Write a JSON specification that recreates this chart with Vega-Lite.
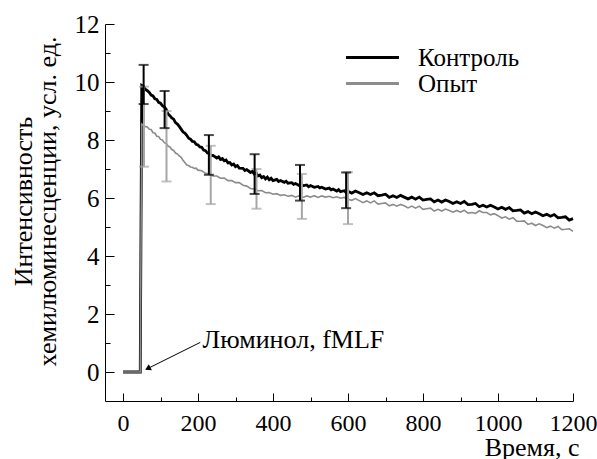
{
  "$schema": "https://vega.github.io/schema/vega-lite/v6.json",
  "width": 468,
  "height": 377,
  "autosize": {"type": "none"},
  "padding": {"left": 105, "top": 24, "right": 24, "bottom": 58},
  "config": {
    "font": "Liberation Serif",
    "view": {"stroke": null},
    "axis": {"grid": false, "domainColor": "#000000", "tickColor": "#000000", "labelColor": "#000000", "titleColor": "#000000", "titleFontWeight": "normal", "labelFont": "Liberation Serif", "titleFont": "Liberation Serif", "labelFlush": false, "labelOverlap": false, "domainWidth": 1, "tickWidth": 1}
  },
  "resolve": {"axis": {"x": "independent", "y": "independent"}},
  "datasets": {
    "kontrol": [
      {"t": 0, "v": 0}, {"t": 46, "v": 0}, {"t": 50, "v": 9.88}, {"t": 55, "v": 9.84}, {"t": 60, "v": 9.74}, {"t": 65, "v": 9.7}, {"t": 70, "v": 9.64}, {"t": 75, "v": 9.55}, {"t": 80, "v": 9.52}, {"t": 85, "v": 9.42}, {"t": 90, "v": 9.4}, {"t": 95, "v": 9.3}, {"t": 100, "v": 9.27}, {"t": 105, "v": 9.18}, {"t": 110, "v": 9.14}, {"t": 115, "v": 9.06}, {"t": 120, "v": 8.9}, {"t": 125, "v": 8.84}, {"t": 130, "v": 8.76}, {"t": 135, "v": 8.72}, {"t": 140, "v": 8.6}, {"t": 145, "v": 8.55}, {"t": 150, "v": 8.47}, {"t": 160, "v": 8.28}, {"t": 165, "v": 8.24}, {"t": 170, "v": 8.16}, {"t": 175, "v": 8.06}, {"t": 180, "v": 8.03}, {"t": 185, "v": 7.95}, {"t": 190, "v": 7.94}, {"t": 195, "v": 7.85}, {"t": 200, "v": 7.83}, {"t": 205, "v": 7.76}, {"t": 210, "v": 7.75}, {"t": 215, "v": 7.65}, {"t": 220, "v": 7.63}, {"t": 225, "v": 7.55}, {"t": 230, "v": 7.54}, {"t": 235, "v": 7.46}, {"t": 240, "v": 7.47}, {"t": 250, "v": 7.38}, {"t": 255, "v": 7.42}, {"t": 260, "v": 7.33}, {"t": 265, "v": 7.36}, {"t": 270, "v": 7.28}, {"t": 275, "v": 7.31}, {"t": 280, "v": 7.21}, {"t": 285, "v": 7.22}, {"t": 290, "v": 7.14}, {"t": 295, "v": 7.17}, {"t": 300, "v": 7.08}, {"t": 305, "v": 7.12}, {"t": 310, "v": 7.03}, {"t": 320, "v": 7.02}, {"t": 325, "v": 6.95}, {"t": 330, "v": 6.98}, {"t": 340, "v": 6.88}, {"t": 345, "v": 6.92}, {"t": 350, "v": 6.83}, {"t": 355, "v": 6.86}, {"t": 360, "v": 6.76}, {"t": 365, "v": 6.79}, {"t": 370, "v": 6.7}, {"t": 375, "v": 6.74}, {"t": 380, "v": 6.66}, {"t": 385, "v": 6.72}, {"t": 390, "v": 6.63}, {"t": 395, "v": 6.68}, {"t": 400, "v": 6.6}, {"t": 410, "v": 6.64}, {"t": 415, "v": 6.57}, {"t": 420, "v": 6.6}, {"t": 430, "v": 6.54}, {"t": 435, "v": 6.58}, {"t": 440, "v": 6.51}, {"t": 450, "v": 6.53}, {"t": 455, "v": 6.47}, {"t": 460, "v": 6.5}, {"t": 470, "v": 6.43}, {"t": 475, "v": 6.48}, {"t": 480, "v": 6.42}, {"t": 490, "v": 6.45}, {"t": 495, "v": 6.39}, {"t": 500, "v": 6.43}, {"t": 510, "v": 6.37}, {"t": 520, "v": 6.4}, {"t": 525, "v": 6.35}, {"t": 530, "v": 6.37}, {"t": 540, "v": 6.31}, {"t": 550, "v": 6.34}, {"t": 555, "v": 6.28}, {"t": 560, "v": 6.31}, {"t": 570, "v": 6.24}, {"t": 575, "v": 6.29}, {"t": 580, "v": 6.22}, {"t": 590, "v": 6.25}, {"t": 595, "v": 6.19}, {"t": 600, "v": 6.23}, {"t": 610, "v": 6.17}, {"t": 620, "v": 6.24}, {"t": 630, "v": 6.18}, {"t": 640, "v": 6.12}, {"t": 650, "v": 6.18}, {"t": 660, "v": 6.12}, {"t": 670, "v": 6.18}, {"t": 680, "v": 6.08}, {"t": 690, "v": 6.1}, {"t": 700, "v": 6.13}, {"t": 710, "v": 6.02}, {"t": 720, "v": 6.08}, {"t": 730, "v": 6.02}, {"t": 740, "v": 6.09}, {"t": 750, "v": 6.03}, {"t": 760, "v": 5.97}, {"t": 770, "v": 6.03}, {"t": 780, "v": 5.96}, {"t": 790, "v": 6.03}, {"t": 800, "v": 5.93}, {"t": 810, "v": 5.95}, {"t": 820, "v": 5.97}, {"t": 830, "v": 5.87}, {"t": 840, "v": 5.93}, {"t": 850, "v": 5.86}, {"t": 860, "v": 5.93}, {"t": 870, "v": 5.88}, {"t": 880, "v": 5.81}, {"t": 890, "v": 5.87}, {"t": 900, "v": 5.81}, {"t": 910, "v": 5.88}, {"t": 920, "v": 5.77}, {"t": 930, "v": 5.78}, {"t": 940, "v": 5.81}, {"t": 950, "v": 5.7}, {"t": 960, "v": 5.75}, {"t": 970, "v": 5.69}, {"t": 980, "v": 5.75}, {"t": 990, "v": 5.69}, {"t": 1000, "v": 5.62}, {"t": 1010, "v": 5.68}, {"t": 1020, "v": 5.61}, {"t": 1030, "v": 5.67}, {"t": 1040, "v": 5.56}, {"t": 1050, "v": 5.57}, {"t": 1060, "v": 5.59}, {"t": 1070, "v": 5.48}, {"t": 1080, "v": 5.53}, {"t": 1090, "v": 5.46}, {"t": 1100, "v": 5.52}, {"t": 1110, "v": 5.46}, {"t": 1120, "v": 5.39}, {"t": 1130, "v": 5.44}, {"t": 1140, "v": 5.37}, {"t": 1150, "v": 5.43}, {"t": 1160, "v": 5.32}, {"t": 1170, "v": 5.33}, {"t": 1180, "v": 5.35}, {"t": 1190, "v": 5.24}, {"t": 1200, "v": 5.29}
    ],
    "opyt": [
      {"t": 0, "v": 0}, {"t": 46, "v": 0}, {"t": 50, "v": 8.55}, {"t": 55, "v": 8.5}, {"t": 60, "v": 8.46}, {"t": 65, "v": 8.45}, {"t": 70, "v": 8.37}, {"t": 75, "v": 8.36}, {"t": 80, "v": 8.25}, {"t": 85, "v": 8.24}, {"t": 90, "v": 8.13}, {"t": 95, "v": 8.12}, {"t": 100, "v": 8.02}, {"t": 105, "v": 8.0}, {"t": 110, "v": 7.91}, {"t": 115, "v": 7.88}, {"t": 120, "v": 7.79}, {"t": 125, "v": 7.76}, {"t": 130, "v": 7.67}, {"t": 135, "v": 7.64}, {"t": 140, "v": 7.55}, {"t": 145, "v": 7.52}, {"t": 150, "v": 7.45}, {"t": 155, "v": 7.4}, {"t": 160, "v": 7.3}, {"t": 165, "v": 7.22}, {"t": 170, "v": 7.14}, {"t": 175, "v": 7.12}, {"t": 180, "v": 7.07}, {"t": 185, "v": 7.06}, {"t": 190, "v": 7.02}, {"t": 195, "v": 7.03}, {"t": 200, "v": 6.96}, {"t": 210, "v": 6.94}, {"t": 220, "v": 6.85}, {"t": 230, "v": 6.83}, {"t": 240, "v": 6.76}, {"t": 250, "v": 6.76}, {"t": 260, "v": 6.68}, {"t": 270, "v": 6.69}, {"t": 280, "v": 6.6}, {"t": 290, "v": 6.6}, {"t": 300, "v": 6.53}, {"t": 310, "v": 6.53}, {"t": 320, "v": 6.44}, {"t": 330, "v": 6.41}, {"t": 340, "v": 6.33}, {"t": 350, "v": 6.31}, {"t": 360, "v": 6.25}, {"t": 370, "v": 6.26}, {"t": 380, "v": 6.18}, {"t": 390, "v": 6.19}, {"t": 400, "v": 6.13}, {"t": 410, "v": 6.15}, {"t": 420, "v": 6.09}, {"t": 430, "v": 6.11}, {"t": 440, "v": 6.06}, {"t": 450, "v": 6.09}, {"t": 460, "v": 6.03}, {"t": 470, "v": 6.08}, {"t": 480, "v": 6.02}, {"t": 490, "v": 6.07}, {"t": 500, "v": 6.03}, {"t": 510, "v": 6.08}, {"t": 520, "v": 6.02}, {"t": 530, "v": 6.07}, {"t": 540, "v": 6.03}, {"t": 550, "v": 6.06}, {"t": 560, "v": 6.01}, {"t": 570, "v": 6.04}, {"t": 580, "v": 5.99}, {"t": 590, "v": 6.02}, {"t": 600, "v": 5.96}, {"t": 610, "v": 5.92}, {"t": 620, "v": 5.98}, {"t": 630, "v": 5.91}, {"t": 640, "v": 5.84}, {"t": 650, "v": 5.9}, {"t": 660, "v": 5.83}, {"t": 670, "v": 5.9}, {"t": 680, "v": 5.79}, {"t": 690, "v": 5.81}, {"t": 700, "v": 5.83}, {"t": 710, "v": 5.73}, {"t": 720, "v": 5.78}, {"t": 730, "v": 5.72}, {"t": 740, "v": 5.78}, {"t": 750, "v": 5.73}, {"t": 760, "v": 5.66}, {"t": 770, "v": 5.72}, {"t": 780, "v": 5.65}, {"t": 790, "v": 5.72}, {"t": 800, "v": 5.61}, {"t": 810, "v": 5.63}, {"t": 820, "v": 5.65}, {"t": 830, "v": 5.55}, {"t": 840, "v": 5.61}, {"t": 850, "v": 5.55}, {"t": 860, "v": 5.62}, {"t": 870, "v": 5.57}, {"t": 880, "v": 5.51}, {"t": 890, "v": 5.57}, {"t": 900, "v": 5.51}, {"t": 910, "v": 5.58}, {"t": 920, "v": 5.48}, {"t": 930, "v": 5.5}, {"t": 940, "v": 5.47}, {"t": 950, "v": 5.56}, {"t": 960, "v": 5.5}, {"t": 970, "v": 5.5}, {"t": 980, "v": 5.42}, {"t": 990, "v": 5.46}, {"t": 1000, "v": 5.39}, {"t": 1010, "v": 5.31}, {"t": 1020, "v": 5.35}, {"t": 1030, "v": 5.27}, {"t": 1040, "v": 5.32}, {"t": 1050, "v": 5.2}, {"t": 1060, "v": 5.2}, {"t": 1070, "v": 5.21}, {"t": 1080, "v": 5.09}, {"t": 1090, "v": 5.13}, {"t": 1100, "v": 5.05}, {"t": 1110, "v": 5.11}, {"t": 1120, "v": 5.05}, {"t": 1130, "v": 4.98}, {"t": 1140, "v": 5.03}, {"t": 1150, "v": 4.96}, {"t": 1160, "v": 5.02}, {"t": 1170, "v": 4.91}, {"t": 1180, "v": 4.92}, {"t": 1190, "v": 4.94}, {"t": 1200, "v": 4.85}
    ],
    "errK": [
      {"t": 55, "lo": 9.24, "hi": 10.59}, {"t": 111, "lo": 8.41, "hi": 9.69}, {"t": 229, "lo": 6.8, "hi": 8.17}, {"t": 351, "lo": 6.14, "hi": 7.51}, {"t": 472, "lo": 5.91, "hi": 7.14}, {"t": 595, "lo": 5.65, "hi": 6.88}
    ],
    "errO": [
      {"t": 56, "lo": 7.08, "hi": 9.84}, {"t": 116, "lo": 6.57, "hi": 9.0}, {"t": 234, "lo": 5.79, "hi": 7.8}, {"t": 356, "lo": 5.63, "hi": 7.0}, {"t": 477, "lo": 5.28, "hi": 6.83}, {"t": 600, "lo": 5.1, "hi": 6.89}
    ],
    "note": [{"t": 212, "v": 1.1, "label": "Люминол, fMLF"}],
    "arrow": [{"t": 206, "v": 1.02, "t2": 66, "v2": 0.12}],
    "head": [{"t": 66, "v": 0.12}]
  },
  "layer": [
    {
      "data": {"name": "kontrol"},
      "mark": {"type": "line", "strokeWidth": 2.8, "interpolate": "linear"},
      "encoding": {
        "x": {
          "field": "t", "type": "quantitative",
          "scale": {"domain": [-48, 1200], "nice": false, "zero": false},
          "axis": {
            "title": "Время, с",
            "format": "d",
            "values": [0, 100, 200, 300, 400, 500, 600, 700, 800, 900, 1000, 1100, 1200],
            "labelExpr": "datum.value % 200 === 0 ? datum.label : ''",
            "tickSize": {"condition": {"test": "datum.value % 200 === 0", "value": -8}, "value": -4},
            "labelPadding": 18,
            "labelFontSize": 24,
            "titleFontSize": 26,
            "titleAnchor": "end",
            "titleAlign": "right",
            "titleBaseline": "alphabetic",
            "titleX": 474,
            "titleY": 54
          }
        },
        "y": {
          "field": "v", "type": "quantitative",
          "scale": {"domain": [-1, 12], "nice": false, "zero": false},
          "axis": {
            "title": ["Интенсивность", "хемилюминесценции, усл. ед."],
            "format": "d",
            "values": [0, 1, 2, 3, 4, 5, 6, 7, 8, 9, 10, 11, 12],
            "labelExpr": "datum.value % 2 === 0 ? datum.label : ''",
            "tickSize": {"condition": {"test": "datum.value % 2 === 0", "value": -9}, "value": -5},
            "labelPadding": 15,
            "labelFontSize": 25,
            "titleFontSize": 26,
            "titleAngle": -90,
            "titleAlign": "center",
            "titleBaseline": "alphabetic",
            "titleLineHeight": 24,
            "titleX": -74,
            "titleY": 177
          }
        },
        "color": {
          "datum": "Контроль", "type": "nominal",
          "scale": {"domain": ["Контроль", "Опыт"], "range": ["#000000", "#8c8c8c"]},
          "legend": {
            "title": null, "orient": "none", "legendX": 255, "legendY": 21,
            "symbolType": "M-5,0H5", "symbolSize": 112, "symbolStrokeWidth": 3,
            "labelFont": "Liberation Serif", "labelFontSize": 25, "labelColor": "#000000",
            "labelOffset": 33, "rowPadding": 0, "padding": 0
          }
        }
      }
    },
    {
      "data": {"name": "opyt"},
      "mark": {"type": "line", "strokeWidth": 1.6},
      "encoding": {
        "x": {"field": "t", "type": "quantitative", "axis": null},
        "y": {"field": "v", "type": "quantitative", "axis": null},
        "color": {"datum": "Опыт", "type": "nominal"}
      }
    },
    {
      "data": {"name": "errO"},
      "mark": {"type": "errorbar", "color": "#a6a6a6", "thickness": 2, "ticks": {"size": 10, "thickness": 2, "color": "#a6a6a6"}, "rule": {"strokeWidth": 2, "color": "#a6a6a6"}},
      "encoding": {
        "x": {"field": "t", "type": "quantitative", "axis": null},
        "y": {"field": "lo", "type": "quantitative", "axis": null},
        "y2": {"field": "hi"}
      }
    },
    {
      "data": {"name": "errK"},
      "mark": {"type": "errorbar", "color": "#000000", "thickness": 2, "ticks": {"size": 10, "thickness": 2, "color": "#000000"}, "rule": {"strokeWidth": 2, "color": "#000000"}},
      "encoding": {
        "x": {"field": "t", "type": "quantitative", "axis": null},
        "y": {"field": "lo", "type": "quantitative", "axis": null},
        "y2": {"field": "hi"}
      }
    },
    {
      "data": {"name": "arrow"},
      "mark": {"type": "rule", "color": "#000000", "strokeWidth": 1},
      "encoding": {
        "x": {"field": "t", "type": "quantitative", "axis": null},
        "y": {"field": "v", "type": "quantitative", "axis": null},
        "x2": {"field": "t2"},
        "y2": {"field": "v2"}
      }
    },
    {
      "data": {"name": "head"},
      "mark": {"type": "point", "shape": "triangle-up", "filled": true, "color": "#000000", "size": 45, "angle": 243, "opacity": 1},
      "encoding": {
        "x": {"field": "t", "type": "quantitative", "axis": null},
        "y": {"field": "v", "type": "quantitative", "axis": null}
      }
    },
    {
      "data": {"name": "note"},
      "mark": {"type": "text", "align": "left", "baseline": "middle", "font": "Liberation Serif", "fontSize": 26, "color": "#000000"},
      "encoding": {
        "x": {"field": "t", "type": "quantitative", "axis": null},
        "y": {"field": "v", "type": "quantitative", "axis": null},
        "text": {"field": "label"}
      }
    }
  ]
}
